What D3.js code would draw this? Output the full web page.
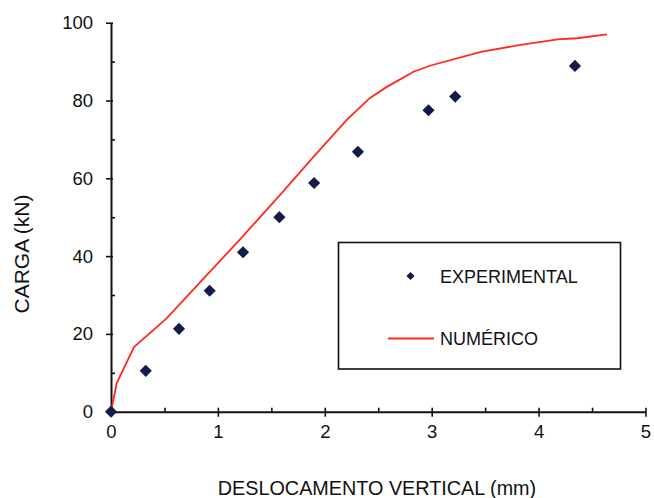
<!DOCTYPE html>
<html>
<head>
<meta charset="utf-8">
<script src="https://cdn.jsdelivr.net/npm/d3@7"></script>
<style>
  body { margin: 0; background: #fff; }
  text { font-family: "Liberation Sans", Arial, sans-serif; fill: #111; }
</style>
</head>
<body>
<div id="chart"></div>
<script>
// experimental points (deslocamento mm, carga kN)
const expX = [0, 0.325, 0.636, 0.923, 1.235, 1.575, 1.90, 2.31, 2.97, 3.22, 4.34];
const expY = [0, 10.5, 21.3, 31.1, 41.0, 50.0, 58.8, 66.8, 77.5, 81.0, 88.9];

// numerical curve
const numX = [0, 0.053, 0.215, 0.52, 0.926, 1.207, 1.58, 1.89, 2.205, 2.42, 2.58, 2.83, 2.99, 3.46, 3.83, 4.18, 4.36, 4.64];
const numY = [0, 7.3, 16.6, 24.0, 36.0, 44.3, 55.7, 65.4, 75.0, 80.6, 83.5, 87.4, 89.0, 92.5, 94.3, 95.7, 96.0, 97.0];

const xTicks = [0, 1, 2, 3, 4, 5];
const xMinor = [0.5, 1.5, 2.5, 3.5, 4.5];
const yTicks = [0, 20, 40, 60, 80, 100];
const yMinor = [10, 30, 50, 70, 90];

window.onload = init;

function init()
{
    const width = 654;
    const height = 498;
    const svg = d3.select('#chart').append('svg').attr('width', width).attr('height', height);

    const x = d3.scaleLinear().domain([0, 5]).range([111, 645.5]);
    const y = d3.scaleLinear().domain([0, 100]).range([411.7, 22.7]);

    // minor ticks
    svg.append('g').attr('transform', 'translate(0,' + y(0) + ')')
        .call(d3.axisBottom(x).tickValues(xMinor).tickSize(-4).tickFormat(''))
        .call(g => g.select('.domain').remove());
    svg.append('g').attr('transform', 'translate(' + x(0) + ',0)')
        .call(d3.axisLeft(y).tickValues(yMinor).tickSize(-4).tickFormat(''))
        .call(g => g.select('.domain').remove());

    // x axis
    const xg = svg.append('g').attr('transform', 'translate(0,' + y(0) + ')')
        .call(d3.axisBottom(x).tickValues(xTicks).tickFormat(d3.format('d'))
            .tickSize(5).tickPadding(8).tickSizeOuter(0));
    xg.selectAll('.tick line').attr('y1', -4);
    xg.selectAll('.tick text').attr('font-size', 18.5);

    // y axis
    const yg = svg.append('g').attr('transform', 'translate(' + x(0) + ',0)')
        .call(d3.axisLeft(y).tickValues(yTicks).tickFormat(d3.format('d'))
            .tickSize(5).tickPadding(13).tickSizeOuter(0));
    yg.selectAll('.tick line').attr('x1', 2);
    yg.selectAll('.tick text').attr('font-size', 18.5);

    svg.selectAll('.domain').attr('stroke', '#111').attr('stroke-width', 2);
    svg.selectAll('.tick line').attr('stroke', '#111').attr('stroke-width', 1.6);

    // numerical line
    const numData = numX.map((d, i) => [d, numY[i]]);
    svg.append('path').datum(numData)
        .attr('fill', 'none').attr('stroke', '#ff2a1f').attr('stroke-width', 1.8)
        .attr('d', d3.line().x(d => x(d[0])).y(d => y(d[1])));

    // experimental diamonds
    const expData = expX.map((d, i) => [d, expY[i]]);
    const diamond = d3.symbol(d3.symbolSquare, 74);
    svg.selectAll('.pt').data(expData).enter().append('path')
        .attr('class', 'pt')
        .attr('d', diamond)
        .attr('fill', '#141b48')
        .attr('transform', d => 'translate(' + x(d[0]) + ',' + y(d[1]) + ') rotate(45)');

    // legend
    const lg = svg.append('g');
    lg.append('rect').attr('x', 338.5).attr('y', 242.5).attr('width', 282).attr('height', 126.5)
        .attr('fill', '#fff').attr('stroke', '#111').attr('stroke-width', 1.6);
    lg.append('path').attr('d', d3.symbol(d3.symbolSquare, 34))
        .attr('fill', '#141b48').attr('transform', 'translate(410.5,276) rotate(45)');
    lg.append('text').attr('x', 440).attr('y', 282.5).attr('font-size', 18).text('EXPERIMENTAL');
    lg.append('line').attr('x1', 388).attr('x2', 434).attr('y1', 338.5).attr('y2', 338.5)
        .attr('stroke', '#ff2a1f').attr('stroke-width', 1.8);
    lg.append('text').attr('x', 440).attr('y', 344.5).attr('font-size', 18).text('NUMÉRICO');

    // axis titles
    svg.append('text').attr('x', 377).attr('y', 495).attr('text-anchor', 'middle')
        .attr('font-size', 19.8).text('DESLOCAMENTO VERTICAL (mm)');
    svg.append('text').attr('transform', 'translate(29,254) rotate(-90)').attr('text-anchor', 'middle')
        .attr('font-size', 21).text('CARGA (kN)');
}
</script>
</body>
</html>
